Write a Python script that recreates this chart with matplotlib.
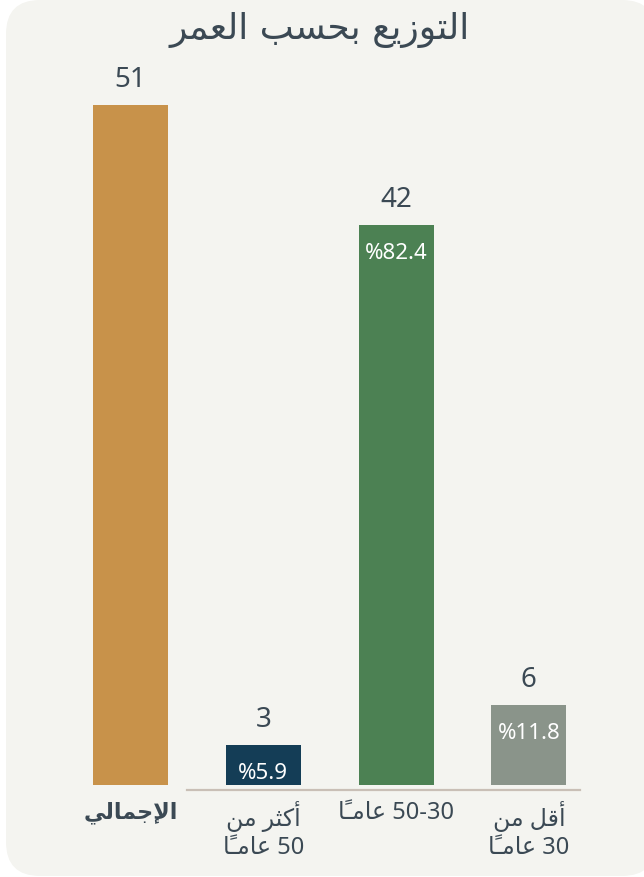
"""
Age distribution card: total bar plus three age bands, Arabic labels.
"""

import matplotlib
matplotlib.use("Agg")
import matplotlib.pyplot as plt
from matplotlib.patches import FancyBboxPatch

TITLE = "التوزيع بحسب العمر"
categories = ["الإجمالي", "أكثر من\n50 عامًا", "50-30 عامًا", "أقل من\n30 عامًا"]
values = [51, 3, 42, 6]
colors = ["#c8924a", "#143d56", "#4c8153", "#8a948a"]

TEXT = "#3b4954"
CARD = "#f4f4f0"

# Arabic presentation forms: isolated, final, initial, medial
FORMS = {
    "ا": ("\uFE8D", "\uFE8E", None, None),
    "أ": ("\uFE83", "\uFE84", None, None),
    "إ": ("\uFE87", "\uFE88", None, None),
    "ب": ("\uFE8F", "\uFE90", "\uFE91", "\uFE92"),
    "ت": ("\uFE95", "\uFE96", "\uFE97", "\uFE98"),
    "ث": ("\uFE99", "\uFE9A", "\uFE9B", "\uFE9C"),
    "ج": ("\uFE9D", "\uFE9E", "\uFE9F", "\uFEA0"),
    "ح": ("\uFEA1", "\uFEA2", "\uFEA3", "\uFEA4"),
    "ر": ("\uFEAD", "\uFEAE", None, None),
    "ز": ("\uFEAF", "\uFEB0", None, None),
    "س": ("\uFEB1", "\uFEB2", "\uFEB3", "\uFEB4"),
    "ع": ("\uFEC9", "\uFECA", "\uFECB", "\uFECC"),
    "ق": ("\uFED5", "\uFED6", "\uFED7", "\uFED8"),
    "ك": ("\uFED9", "\uFEDA", "\uFEDB", "\uFEDC"),
    "ل": ("\uFEDD", "\uFEDE", "\uFEDF", "\uFEE0"),
    "م": ("\uFEE1", "\uFEE2", "\uFEE3", "\uFEE4"),
    "ن": ("\uFEE5", "\uFEE6", "\uFEE7", "\uFEE8"),
    "و": ("\uFEED", "\uFEEE", None, None),
    "ي": ("\uFEF1", "\uFEF2", "\uFEF3", "\uFEF4"),
    "\uFEFB": ("\uFEFB", "\uFEFC", None, None),
    "\uFEF7": ("\uFEF7", "\uFEF8", None, None),
    "\uFEF9": ("\uFEF9", "\uFEFA", None, None),
}
LAM_ALEF = {"ا": "\uFEFB", "أ": "\uFEF7", "إ": "\uFEF9"}
# fathatan on a joining letter -> short tatweel carrying the mark
TATWEEL_MARK = {"\u064B": "\uFE71"}


def shape_word(word):
    letters = []
    for ch in word:
        if ch in TATWEEL_MARK and letters:
            letters[-1][1] += ch
        else:
            letters.append([ch, ""])
    merged = []
    i = 0
    while i < len(letters):
        ch, mk = letters[i]
        if ch == "ل" and i + 1 < len(letters) and letters[i + 1][0] in LAM_ALEF:
            merged.append([LAM_ALEF[letters[i + 1][0]], mk + letters[i + 1][1]])
            i += 2
        else:
            merged.append([ch, mk])
            i += 1
    glyphs = []
    n = len(merged)
    for i, (ch, mk) in enumerate(merged):
        f = FORMS[ch]
        prev = i > 0 and FORMS[merged[i - 1][0]][2] is not None
        nxt = i < n - 1 and f[2] is not None
        if prev and nxt:
            g = f[3]
        elif nxt:
            g = f[2]
        elif prev:
            g = f[1]
        else:
            g = f[0]
        glyphs.append(g)
        # marks drawn as a tatweel after the letter (visual: to its left)
        for m in mk:
            glyphs.append(TATWEEL_MARK[m] if nxt else "")
    return "".join(reversed(glyphs))


def visual(line):
    out = []
    for tok in line.split(" "):
        if tok and (tok[0] in FORMS):
            out.append(shape_word(tok))
        else:
            out.append(tok)
    return " ".join(reversed(out))


def visual_block(text):
    return "\n".join(visual(l) for l in text.split("\n"))


def main() -> None:
    W, H = 644, 878
    fig = plt.figure(figsize=(W / 100, H / 100), dpi=100)
    fig.patch.set_facecolor("white")

    card = FancyBboxPatch((6 / 100, 1 / 100), 650 / 100, 876 / 100,
                          boxstyle="round,pad=0,rounding_size=0.34",
                          transform=fig.dpi_scale_trans,
                          facecolor=CARD, edgecolor="none", zorder=-10)
    fig.patches.append(card)

    ax = fig.add_axes([64.2 / W, (H - 786) / H, 531 / W, 687 / H])
    ax.set_zorder(1)
    ax.set_facecolor("none")
    ax.set_xlim(-0.5, 3.5)
    ax.set_ylim(0, 51.5)
    ax.axis("off")

    x = list(range(len(values)))
    ax.bar(x, values, width=0.565, color=colors, zorder=2)

    # baseline under the breakdown bars only
    ax.axhline(-0.38, xmin=0.231, xmax=0.971, color="#c9bfb6", lw=1.6,
               clip_on=False, zorder=1)

    total = values[0]
    for i, v in enumerate(values):
        ax.annotate(str(v), (i, v), xytext=(0, 12), textcoords="offset pixels",
                    ha="center", va="bottom", fontsize=20, color=TEXT,
                    family=["Noto Sans", "DejaVu Sans"])
        if i > 0:
            pct = 100 * v / total
            ax.annotate(f"%{pct:.1f}", (i, v), xytext=(0, -17),
                        textcoords="offset pixels", ha="center", va="top",
                        fontsize=16, color="white",
                        family=["Noto Sans", "DejaVu Sans"])
        ax.annotate(visual_block(categories[i]), (i, 0), xytext=(0, -15),
                    textcoords="offset pixels", ha="center", va="top",
                    multialignment="center", linespacing=1.2,
                    fontsize=16 if i == 0 else 17, color=TEXT,
                    fontweight="bold" if i == 0 else "normal",
                    family=["Noto Sans", "DejaVu Sans"])

    fig.text(320 / W, (H - 39) / H, visual(TITLE), ha="center", va="baseline",
             fontsize=26, color=TEXT, family=["DejaVu Sans"])

    fig.savefig("out.png", dpi=100, facecolor=fig.get_facecolor())
    plt.close(fig)


if __name__ == "__main__":
    main()
